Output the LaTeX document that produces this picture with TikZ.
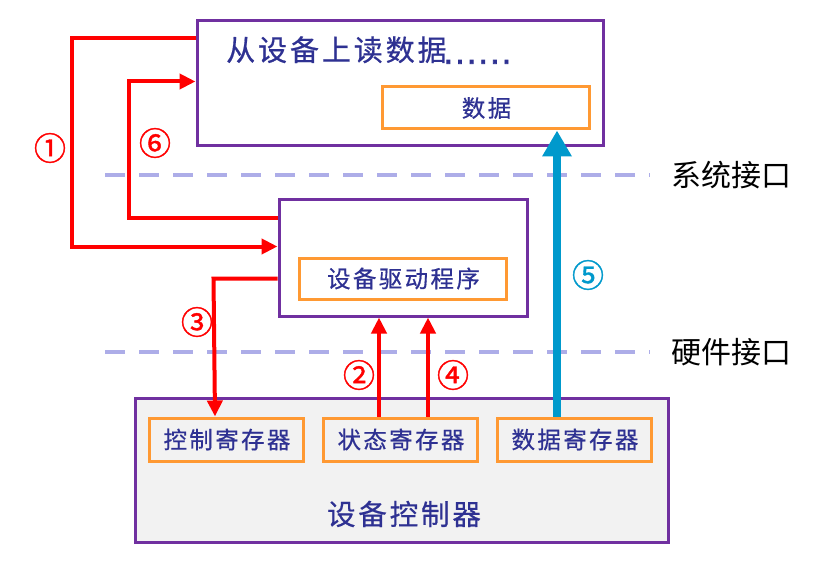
\documentclass[tikz,border=0pt]{standalone}
\usepackage{fontspec}
\newfontfamily\cjk{Noto Sans CJK SC}
\newfontfamily\cjkbox{Noto Sans CJK SC}[LetterSpace=10,FakeBold=0.6]
\newfontfamily\cjknum{Noto Sans CJK SC}[FakeBold=1.2]
\newfontfamily\dotfont{DejaVu Sans}[FakeBold=2.5,LetterSpace=7]
\usetikzlibrary{arrows.meta,calc}
\definecolor{purp}{HTML}{7030A0}
\definecolor{org}{HTML}{FF9933}
\definecolor{txt}{HTML}{2E3192}
\definecolor{dashc}{HTML}{ADADE8}
\definecolor{bl}{HTML}{0099CC}
\definecolor{gbg}{HTML}{F2F2F2}
\definecolor{rd}{HTML}{FF0000}
\begin{document}
\begin{tikzpicture}[x=1pt,y=-1pt,
  outerbox/.style={draw=purp, line width=3pt, inner sep=0pt, fill=white},
  innerbox/.style={draw=org, line width=3pt, inner sep=0pt, fill=white, text=txt, font=\cjkbox\fontsize{23.5}{26}\selectfont},
  regbox/.style={innerbox, fill=gbg, minimum width=154pt, minimum height=43pt},
  redarr/.style={draw=rd, line width=4pt, -{Triangle[length=16pt,width=15pt]}},
  numlab/.style={text=rd, font=\cjknum\fontsize{32}{36}\selectfont, inner sep=0pt},
  sepline/.style={draw=dashc, line width=4pt, dash pattern=on 20pt off 14pt},
  ifacelab/.style={anchor=west, inner sep=0pt, font=\cjk\fontsize{30}{34}\selectfont}
]
\useasboundingbox[fill=white] (0,0) rectangle (835,564);

% boxes
\node[outerbox, minimum width=406pt, minimum height=125pt] (top) at (400,83.5) {};
\node[anchor=west, inner sep=0pt, text=txt, font=\cjkbox\fontsize{29}{34}\selectfont] (title) at (226,50) {从设备上读数据\hspace{-3pt}{\dotfont\fontsize{30}{30}\selectfont\raisebox{-3pt}{......}}};
\node[innerbox, minimum width=207pt, minimum height=42pt] (data) at (485.5,108) {\hspace{2pt}数据};

\node[outerbox, minimum width=248pt, minimum height=116pt] (drv) at (403,258) {};
\node[innerbox, minimum width=207pt, minimum height=41pt] (drvin) at (402.5,278.5) {\hspace{2pt}设备驱动程序};

\node[outerbox, fill=gbg, minimum width=533pt, minimum height=144pt] (ctl) at (401.5,470) {};
\node[regbox] (creg) at (226,439.5) {\hspace{2pt}控制寄存器};
\node[regbox] (sreg) at (400,439.5) {\hspace{2pt}状态寄存器};
\node[regbox] (dreg) at (574,439.5) {\hspace{2pt}数据寄存器};
\node[inner sep=0pt, text=txt, font=\cjkbox\fontsize{28.5}{34}\selectfont] (ctllab) at (404,514) {设备控制器};

% interface lines
\coordinate (s1) at (105,175);
\coordinate (s2) at (650,175);
\coordinate (h1) at (105,352);
\coordinate (h2) at (650,352);
\draw[sepline] (s1) -- (s2);
\draw[sepline] (h1) -- (h2);
\node[ifacelab] (sys) at (671,175) {系统接口};
\node[ifacelab] (hw) at (671,352) {硬件接口};

% arrows
\draw[redarr] ([yshift=-19pt]top.north west) -- ++(-124,0) |- ([yshift=-48pt]drv.north west);
\draw[redarr] ([yshift=-20pt]drv.north west) -- ++(-149,0) |- ([yshift=-62pt]top.north west);
\draw[redarr] ([yshift=-80pt]drv.north west) -- ++(-64,0) -- (creg.north -| 215,0);
\draw[redarr] (sreg.north -| 379,0) -- (drv.south -| 379,0);
\draw[redarr] (sreg.north -| 428,0) -- (drv.south -| 428,0);
\draw[draw=bl, line width=8pt, -{Triangle[length=26pt,width=28pt]}] (dreg.north -| 557,0) -- (data.south -| 557,0);

% numbers
\node[numlab] (n1) at (50,148) {①};
\node[numlab] (n6) at (155,143) {⑥};
\node[numlab] (n3) at (197,322) {③};
\node[numlab] (n2) at (359,375) {②};
\node[numlab] (n4) at (453,375) {④};
\node[numlab, text=bl] (n5) at (588,275) {⑤};
\end{tikzpicture}
\end{document}
